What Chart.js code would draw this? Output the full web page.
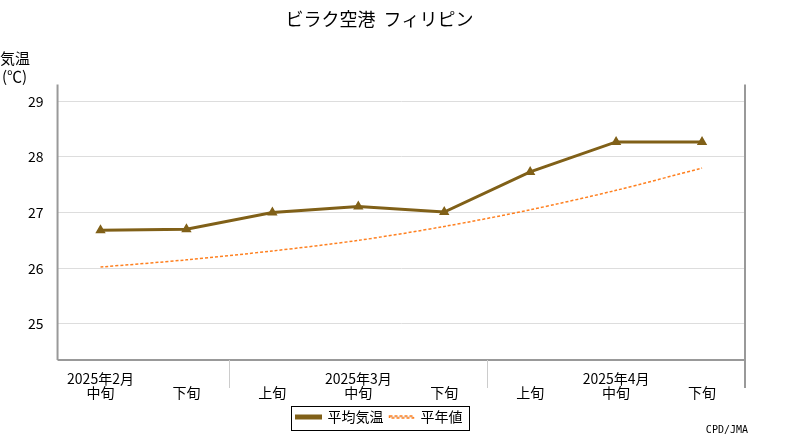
<!DOCTYPE html>
<html><head><meta charset="utf-8">
<script src="https://cdn.jsdelivr.net/npm/chart.js@4/dist/chart.umd.min.js"></script>
<style>body{margin:0;background:#fff}#wrap{width:800px;height:440px;position:relative}</style>
</head><body><div id="wrap"><canvas id="c" width="800" height="440"></canvas></div>
<script>
const months = ["2025年2月", "", "", "2025年3月", "", "", "2025年4月", ""];
const periods = ["中旬", "下旬", "上旬", "中旬", "下旬", "上旬", "中旬", "下旬"];
const avgTemp = [26.68, 26.70, 27.00, 27.11, 27.01, 27.73, 28.27, 28.27];
const normalTemp = [26.02, 26.15, 26.31, 26.50, 26.75, 27.05, 27.40, 27.80];
const FONT = "'Noto Sans CJK JP', sans-serif";

/* frame, month separators, legend box, axis title and credit */
const decor = {
  id: "decor",
  afterDraw(chart) {
    const {ctx, chartArea: a, scales: {x}, legend: lg} = chart;
    ctx.save();
    ctx.strokeStyle = "#999"; ctx.lineWidth = 2;
    ctx.beginPath();
    ctx.moveTo(a.left, a.top); ctx.lineTo(a.left, a.bottom);
    ctx.moveTo(a.right, a.top); ctx.lineTo(a.right, a.bottom + 28);
    ctx.moveTo(a.left, a.bottom); ctx.lineTo(a.right, a.bottom);
    ctx.stroke();
    ctx.strokeStyle = "#ccc"; ctx.lineWidth = 1;
    ctx.beginPath();
    [1.5, 4.5].forEach(i => {
      const px = Math.round(x.getPixelForValue(i)) + 0.5;
      ctx.moveTo(px, a.bottom); ctx.lineTo(px, a.bottom + 28);
    });
    ctx.stroke();
    const hb = lg.legendHitBoxes;
    if (hb && hb.length) {
      const l = hb[0].left - 6, r = hb[hb.length - 1].left + hb[hb.length - 1].width + 6;
      ctx.strokeStyle = "#000";
      ctx.strokeRect(Math.round(l) + 0.5, Math.round(hb[0].top) - 3.5, Math.round(r - l), 24);
    }
    ctx.fillStyle = "#000"; ctx.font = "15px " + FONT; ctx.textAlign = "left";
    ctx.fillText("気温", 0, 58);
    ctx.fillText("(℃)", 2, 76);
    ctx.font = "10px monospace"; ctx.textAlign = "right";
    ctx.fillText("CPD/JMA", 748, 430);
    ctx.restore();
  }
};

new Chart(document.getElementById("c"), {
  type: "line",
  data: {
    labels: periods.map((p, i) => [months[i], p]),
    datasets: [
      {label: "平均気温", data: avgTemp, borderColor: "#806018", backgroundColor: "#806018",
       borderWidth: 3, pointStyle: "triangle", pointRadius: 3, tension: 0},
      {label: "平年値", data: normalTemp, borderColor: "#ff8020", borderWidth: 1.5,
       borderDash: [3, 2], pointRadius: 0, tension: 0.3}
    ]
  },
  options: {
    responsive: false, animation: false,
    layout: {padding: {left: 14, right: 55, top: 0, bottom: 6}},
    plugins: {
      title: {display: true, text: "ビラク空港  フィリピン", color: "#000",
              font: {family: FONT, size: 18, weight: "normal"}, padding: {top: 8, bottom: 55}},
      legend: {position: "bottom", labels: {color: "#000", font: {family: FONT, size: 14},
               boxWidth: 24, boxHeight: 2, padding: 6}},
      tooltip: {enabled: false}
    },
    scales: {
      x: {offset: true, grid: {display: false}, border: {display: false},
          ticks: {color: "#000", font: {family: FONT, size: 14, lineHeight: 1.0}, maxRotation: 0, autoSkip: false, padding: 4}},
      y: {min: 24.35, max: 29.3, grid: {color: "#ddd", drawTicks: false}, border: {display: false},
          afterBuildTicks: s => { s.ticks = [25, 26, 27, 28, 29].map(v => ({value: v})); },
          ticks: {color: "#000", font: {family: FONT, size: 14}, padding: 14}}
    }
  },
  plugins: [decor]
});
</script></body></html>
